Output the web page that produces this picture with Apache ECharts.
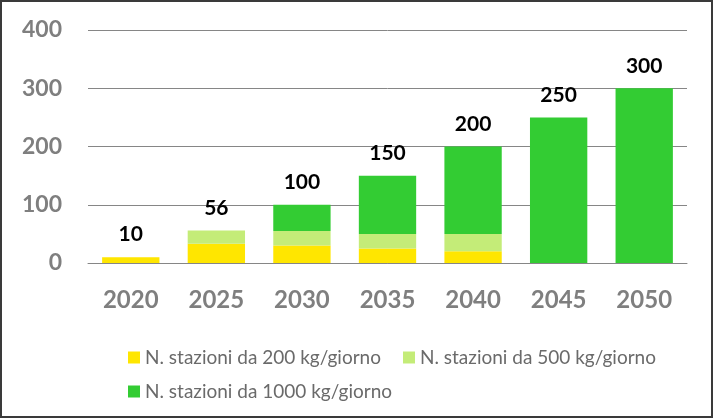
<!DOCTYPE html>
<html><head><meta charset="utf-8">
<script src="https://cdn.jsdelivr.net/npm/echarts@6/dist/echarts.min.js"></script>
<style>
html,body{margin:0;padding:0;background:#fff;}
#wrap{position:absolute;left:0;top:0;width:709px;height:414px;border:2px solid #3a3a3a;box-sizing:content-box;}
#c{width:709px;height:414px;}
</style></head>
<body><div id="wrap"><div id="c"></div></div>
<script>
const categories = ['2020','2025','2030','2035','2040','2045','2050'];
const s200 = [10, 33, 30, 25, 20, 0, 0];
const s500 = [0, 23, 25, 25, 30, 0, 0];
const s1000 = [0, 0, 45, 100, 150, 250, 300];
const totals = [10, 56, 100, 150, 200, 250, 300];
const yTicks = [0, 100, 200, 300, 400];
const names = ['N. stazioni da 200 kg/giorno','N. stazioni da 500 kg/giorno','N. stazioni da 1000 kg/giorno'];
const colors = ['#FFE600','#C4EC78','#33CC33'];

const FONT = 'Lato';
const chart = echarts.init(document.getElementById('c'));
const legendText = {color:'#6a6a6a', fontSize:19, fontFamily:FONT};
chart.setOption({
  animation:false,
  color: colors,
  grid:{left:86, right:24, top:28, bottom:153},
  legend:[
    {data:[names[0],names[1]], left:121, top:341, itemWidth:12, itemHeight:12, itemGap:22, icon:'rect', textStyle:legendText},
    {data:[names[2]], left:121, top:375, itemWidth:12, itemHeight:12, icon:'rect', textStyle:legendText}
  ],
  xAxis:{type:'category', data:categories,
    axisLine:{lineStyle:{color:'#868686'}}, axisTick:{show:false},
    axisLabel:{color:'#7f7f7f', fontSize:24, fontWeight:'bold', fontFamily:FONT, margin:25}},
  yAxis:{type:'value', min:yTicks[0], max:yTicks[yTicks.length-1], interval:100,
    axisLine:{show:false}, axisTick:{show:false},
    splitLine:{lineStyle:{color:'#868686', width:1}},
    axisLabel:{color:'#7f7f7f', fontSize:23, fontWeight:'bold', fontFamily:FONT, margin:26}},
  series:[
    {name:names[0], type:'bar', stack:'a', data:s200, barCategoryGap:'33%'},
    {name:names[1], type:'bar', stack:'a', data:s500},
    {name:names[2], type:'bar', stack:'a', data:s1000},
    {name:'tot', type:'bar', stack:'a', data:totals.map(()=>0), itemStyle:{color:'transparent'},
      label:{show:true, position:'top', distance:12, color:'#000', fontSize:21, fontWeight:'bold', fontFamily:FONT,
        formatter:p=>String(totals[p.dataIndex])}}
  ]
});
</script></body></html>
